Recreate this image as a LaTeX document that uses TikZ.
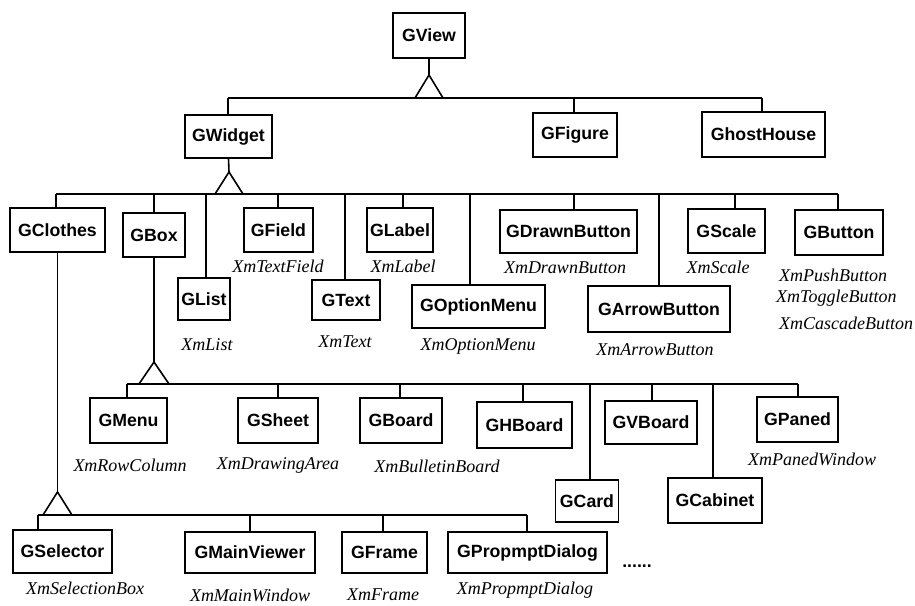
\documentclass[tikz,border=0pt]{standalone}
\usepackage{fontspec}
\setmainfont{Liberation Serif}
\newfontfamily\boxfont{Liberation Sans}
\begin{document}
\begin{tikzpicture}[x=1pt,y=-1pt,
  cls/.style={draw, line width=1.6pt, font=\boxfont\bfseries\fontsize{17.7}{20}\selectfont, inner sep=0pt, minimum height=44pt},
  xm/.style={font=\itshape\fontsize{18}{21}\selectfont, inner sep=0pt},
  link/.style={line width=1.6pt},
  tri/.style={line width=1.6pt, line join=miter}]
\useasboundingbox (0,0) rectangle (915,605);
% level 0/1
\node[cls, minimum width=72pt, minimum height=45pt] (GView) at (429,35.5) {GView};
\node[cls, minimum width=87pt, minimum height=43pt] (GWidget) at (228.5,136.5) {GWidget};
\node[cls, minimum width=84pt] (GFigure) at (575,135) {GFigure};
\node[cls, minimum width=123pt, minimum height=45pt] (GhostHouse) at (763.5,134.5) {GhostHouse};
% GWidget children
\node[cls, minimum width=95pt] (GClothes) at (57.5,230) {GClothes};
\node[cls, minimum width=62pt] (GBox) at (154,235) {GBox};
\node[cls, minimum width=52pt, minimum height=42pt] (GList) at (204,299) {GList};
\node[cls, minimum width=69pt] (GField) at (278.5,230) {GField};
\node[cls, minimum width=68pt, minimum height=40pt] (GText) at (346,300) {GText};
\node[cls, minimum width=66pt] (GLabel) at (400,230) {GLabel};
\node[cls, minimum width=133pt, minimum height=43pt] (GOptionMenu) at (478.5,306.5) {GOptionMenu};
\node[cls, minimum width=137pt, minimum height=43pt] (GDrawnButton) at (568.5,231.5) {GDrawnButton};
\node[cls, minimum width=142pt, minimum height=46pt] (GArrowButton) at (659,309) {GArrowButton};
\node[cls, minimum width=77pt] (GScale) at (726.5,231) {GScale};
\node[cls, minimum width=88pt, minimum height=45pt] (GButton) at (839,232.5) {GButton};
% GBox children
\node[cls, minimum width=77pt, minimum height=45pt] (GMenu) at (128.5,420.5) {GMenu};
\node[cls, minimum width=80pt, minimum height=45pt] (GSheet) at (278,420.5) {GSheet};
\node[cls, minimum width=82pt, minimum height=45pt] (GBoard) at (401,420.5) {GBoard};
\node[cls, minimum width=95pt, minimum height=46pt] (GHBoard) at (524.5,425) {GHBoard};
\node[cls, minimum width=63pt, minimum height=42pt] (GCard) at (587,501) {GCard};
\node[cls, minimum width=92pt, minimum height=43pt] (GVBoard) at (651,422.5) {GVBoard};
\node[cls, minimum width=94pt, minimum height=45pt] (GCabinet) at (715,500.5) {GCabinet};
\node[cls, minimum width=81pt, minimum height=45pt] (GPaned) at (797.5,419.5) {GPaned};
% GClothes children
\node[cls, minimum width=99pt, minimum height=43pt] (GSelector) at (62.5,551.5) {GSelector};
\node[cls, minimum width=130pt, minimum height=41pt] (GMainViewer) at (250,552.5) {GMainViewer};
\node[cls, minimum width=85pt, minimum height=41pt] (GFrame) at (384.5,552.5) {GFrame};
\node[cls, minimum width=159pt, minimum height=41pt] (GPropmptDialog) at (527.5,552.5) {GPropmptDialog};
\node[inner sep=0pt, font=\boxfont\bfseries\fontsize{17.7}{20}\selectfont] (dots) at (637,566) {......};
% Xm labels
\node[xm] (lField) at (278,266) {XmTextField};
\node[xm] (lLabel) at (403,266) {XmLabel};
\node[xm] (lList) at (207,345) {XmList};
\node[xm] (lText) at (345,342) {XmText};
\node[xm] (lOpt) at (478,346) {XmOptionMenu};
\node[xm] (lDrawn) at (565,268) {XmDrawnButton};
\node[xm] (lArrow) at (655,350) {XmArrowButton};
\node[xm] (lScale) at (718,267) {XmScale};
\node[xm, anchor=west] (lPush) at (779,275) {XmPushButton};
\node[xm, anchor=west] (lToggle) at (776,298) {XmToggleButton};
\node[xm, anchor=west] (lCasc) at (779,323) {XmCascadeButton};
\node[xm] (lMenu) at (130,465) {XmRowColumn};
\node[xm] (lSheet) at (278,465) {XmDrawingArea};
\node[xm] (lBoard) at (437,466) {XmBulletinBoard};
\node[xm] (lPaned) at (812,459) {XmPanedWindow};
\node[xm] (lSel) at (85,588) {XmSelectionBox};
\node[xm] (lMain) at (250,595) {XmMainWindow};
\node[xm] (lFrame) at (383,595) {XmFrame};
\node[xm] (lProm) at (525,590) {XmPropmptDialog};
% GView inheritance
\coordinate (aV) at (429,75); \coordinate (aVl) at (415,98); \coordinate (aVr) at (443,98);
\coordinate (bVL) at (228,98); \coordinate (bVR) at (762,98);
\draw[link] (GView.south) -- (aV);
\draw[link] (bVL) -- (bVR);
\draw[tri] (aV) -- (aVl) -- (aVr) -- cycle;
\foreach \x/\n in {228/GWidget, 574/GFigure, 762/GhostHouse} {
  \coordinate (t) at (\x,98); \draw[link] (t) -- (t |- \n.north);
}
% GWidget inheritance
\coordinate (aW) at (229,172); \coordinate (aWl) at (215,194); \coordinate (aWr) at (243,194);
\coordinate (bWL) at (56,194); \coordinate (bWR) at (838,194);
\draw[link] (GWidget.south) -- (aW);
\draw[link] (bWL) -- (bWR);
\draw[tri] (aW) -- (aWl) -- (aWr) -- cycle;
\foreach \x/\n in {56/GClothes, 154/GBox, 206/GList, 278/GField, 345/GText, 403/GLabel, 470/GOptionMenu, 574/GDrawnButton, 659/GArrowButton, 735/GScale, 838/GButton} {
  \coordinate (t) at (\x,194); \draw[link] (t) -- (t |- \n.north);
}
% GBox inheritance
\coordinate (aB) at (154,362); \coordinate (aBl) at (139,384); \coordinate (aBr) at (169,384);
\coordinate (bBL) at (127,384); \coordinate (bBR) at (798,384);
\draw[link] (GBox.south) -- (aB);
\draw[link] (bBL) -- (bBR);
\draw[tri] (aB) -- (aBl) -- (aBr) -- cycle;
\foreach \x/\n in {127/GMenu, 278/GSheet, 400/GBoard, 523/GHBoard, 590/GCard, 652/GVBoard, 713/GCabinet, 798/GPaned} {
  \coordinate (t) at (\x,384); \draw[link] (t) -- (t |- \n.north);
}
% GClothes inheritance
\coordinate (aC) at (57.5,492); \coordinate (aCl) at (43,515); \coordinate (aCr) at (72,515);
\coordinate (bCL) at (38,515); \coordinate (bCR) at (527,515);
\draw[link] (GClothes.south) -- (aC);
\draw[link] (bCL) -- (bCR);
\draw[tri] (aC) -- (aCl) -- (aCr) -- cycle;
\foreach \x/\n in {38/GSelector, 250/GMainViewer, 383/GFrame, 527/GPropmptDialog} {
  \coordinate (t) at (\x,515); \draw[link] (t) -- (t |- \n.north);
}
\end{tikzpicture}
\end{document}
